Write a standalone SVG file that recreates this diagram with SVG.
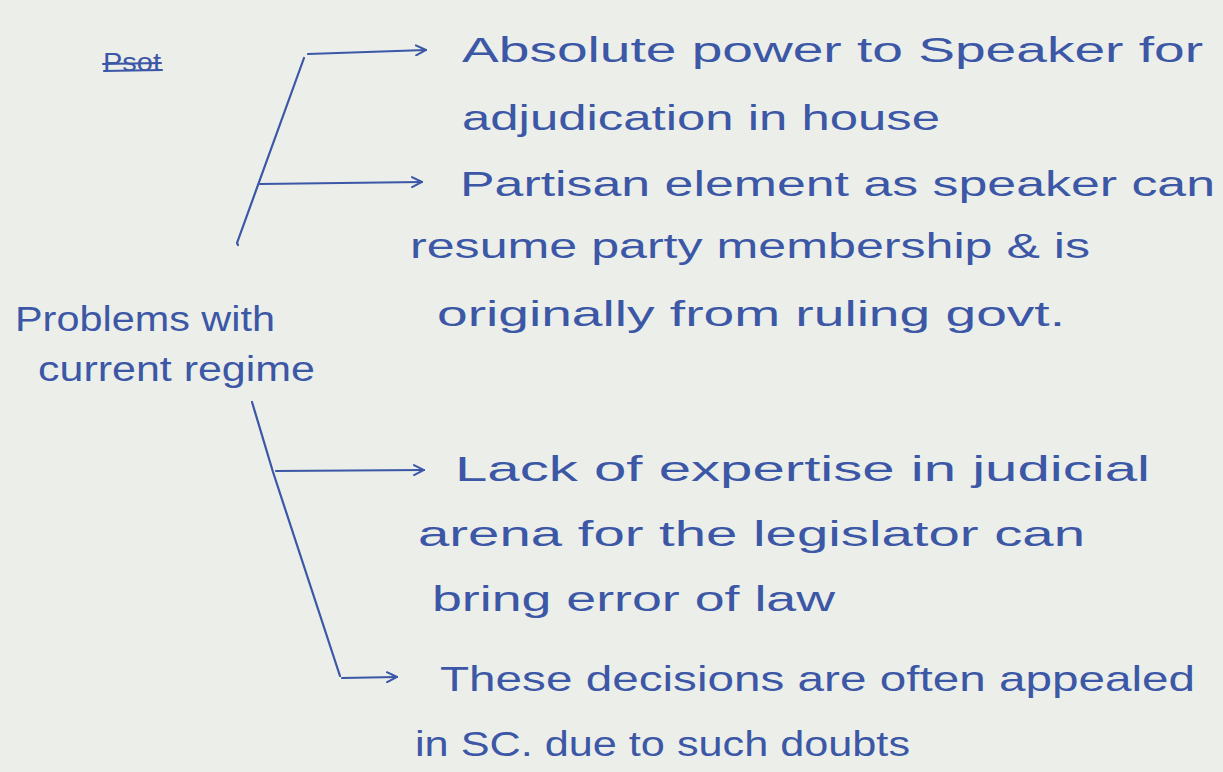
<svg xmlns="http://www.w3.org/2000/svg" width="1223" height="772" viewBox="0 0 1223 772">
<defs>
<style>
.t{font-family:"Liberation Sans","DejaVu Sans",sans-serif;font-size:35px;fill:#3b57a6}
.s{font-family:"Liberation Sans","DejaVu Sans",sans-serif;font-size:26px;fill:#3b57a6}
.ln{fill:none;stroke:#3b57a6;stroke-width:2.2;stroke-linecap:round;stroke-linejoin:round}
</style>
<marker id="ah" viewBox="0 0 12 12" refX="11" refY="6" markerWidth="12" markerHeight="12" markerUnits="userSpaceOnUse" orient="auto">
<path d="M1,1 L11,6 L1,11" fill="none" stroke="#3b57a6" stroke-width="2" stroke-linecap="round"/>
</marker>
</defs>
<rect width="1223" height="772" fill="#eceeea"/>
<g id="struck">
<text class="s" x="103" y="71" textLength="58" lengthAdjust="spacingAndGlyphs">Psot</text>
<path class="ln" d="M103,64 L161,63 M104,71 L162,70"/>
</g>
<g id="connectors">
<path class="ln" d="M304,58 L237,243 L238,245"/>
<path class="ln" d="M308,54 L426,50" marker-end="url(#ah)"/>
<path class="ln" d="M260,184 L422,182" marker-end="url(#ah)"/>
<path class="ln" d="M252,402 L273,472 L340,676"/>
<path class="ln" d="M276,471 L424,470" marker-end="url(#ah)"/>
<path class="ln" d="M342,678 L397,677" marker-end="url(#ah)"/>
</g>
<g id="root">
<text class="t" x="15" y="331" textLength="260" lengthAdjust="spacingAndGlyphs">Problems with</text>
<text class="t" x="38" y="381" textLength="277" lengthAdjust="spacingAndGlyphs">current regime</text>
</g>
<g id="point1">
<text class="t" x="462" y="62" textLength="741" lengthAdjust="spacingAndGlyphs">Absolute power to Speaker for</text>
<text class="t" x="462" y="130" textLength="478" lengthAdjust="spacingAndGlyphs">adjudication in house</text>
</g>
<g id="point2">
<text class="t" x="460" y="196" textLength="755" lengthAdjust="spacingAndGlyphs">Partisan element as speaker can</text>
<text class="t" x="410" y="258" textLength="680" lengthAdjust="spacingAndGlyphs">resume party membership &amp; is</text>
<text class="t" x="437" y="326" textLength="628" lengthAdjust="spacingAndGlyphs">originally from ruling govt.</text>
</g>
<g id="point3">
<text class="t" x="455" y="481" textLength="695" lengthAdjust="spacingAndGlyphs">Lack of expertise in judicial</text>
<text class="t" x="418" y="546" textLength="667" lengthAdjust="spacingAndGlyphs">arena for the legislator can</text>
<text class="t" x="432" y="611" textLength="403" lengthAdjust="spacingAndGlyphs">bring error of law</text>
</g>
<g id="point4">
<text class="t" x="440" y="691" textLength="755" lengthAdjust="spacingAndGlyphs">These decisions are often appealed</text>
<text class="t" x="415" y="756" textLength="495" lengthAdjust="spacingAndGlyphs">in SC. due to such doubts</text>
</g>
</svg>
